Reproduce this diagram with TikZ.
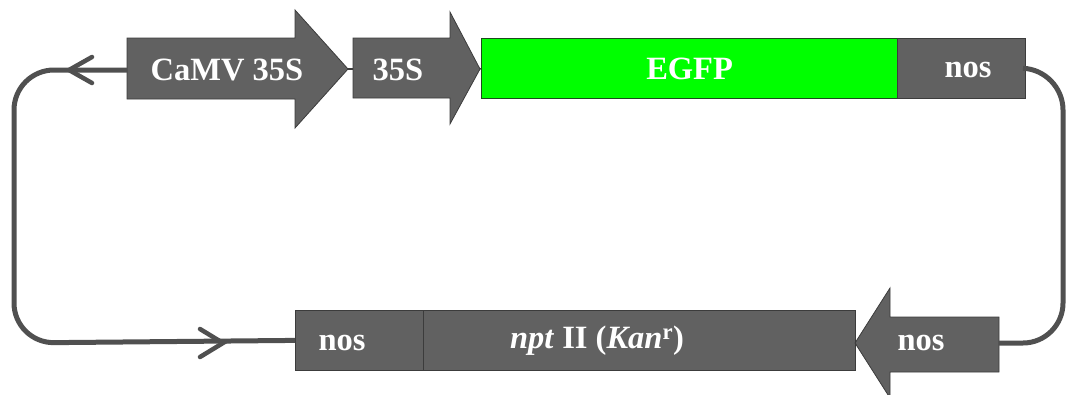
\documentclass[tikz,border=0pt]{standalone}
\usepackage{fontspec}
\setmainfont{Liberation Serif}
\begin{document}
\begin{tikzpicture}[x=1pt,y=-1pt,
  genefill/.style={fill=geneGray,draw=boxEdge,line width=0.8pt},
  boxnode/.style={genefill,rectangle,minimum height=60pt,inner sep=0pt,anchor=north west},
  lbl/.style={text=white,font=\fontsize{32.5}{38}\selectfont\bfseries,inner sep=0pt},
  loopline/.style={draw=lineGray,line width=5pt,rounded corners=40pt},
  chev/.style={draw=lineGray,line width=4.5pt,line cap=round,line join=miter},
  joint/.style={draw=boxEdge,line width=1.2pt}]
\definecolor{geneGray}{HTML}{616161}
\definecolor{boxEdge}{HTML}{3C3C3C}
\definecolor{lineGray}{HTML}{505050}
\definecolor{egfpGreen}{HTML}{00FF00}
\definecolor{egfpEdge}{HTML}{1E4A1E}
\useasboundingbox (0,0) rectangle (1067,394);

% CaMV 35S arrow
\path[genefill] (127,38) -- (295,38) -- (295,10) -- (348,69) -- (295,128) -- (295,99) -- (127,99) -- cycle;
\coordinate (camvL) at (127,70);
\coordinate (camvT) at (348,69);
\node[lbl] (camv) at (227,70) {CaMV 35S};

% 35S arrow
\path[genefill] (353,38) -- (450,38) -- (450,12) -- (480,69) -- (450,124) -- (450,98) -- (353,98) -- cycle;
\coordinate (s35L) at (353,69);
\coordinate (s35T) at (480,69);
\node[lbl] (s35) at (398,70) {35S};

% EGFP
\node[boxnode,fill=egfpGreen,draw=egfpEdge,line width=1.2pt,minimum width=416pt,minimum height=60pt] (egfp) at (481,38) {};
\node[lbl] at (egfp.center) {EGFP};

% nos top
\node[boxnode,minimum width=128pt] (nosT) at (897,38) {};
\node[lbl] at (968,70) {nos};

% short joints
\draw[joint] (camvT) -- (s35L);
\draw[joint] (s35T) -- (egfp.west);

% bottom nos box
\node[boxnode,minimum width=128pt] (nosB) at (295,310) {};
\node[lbl] at (342,343) {nos};

% npt II box
\node[boxnode,minimum width=432pt] (npt) at (423,310) {};
\node[lbl] at (597,341) {\textit{npt} II (\textit{Kan}\textsuperscript{r})};

% nos reverse arrow
\path[genefill] (999,317) -- (890,317) -- (890,288) -- (855,343) -- (890,398) -- (890,372) -- (999,372) -- cycle;
\coordinate (nosRR) at (999,343);
\node[lbl] (nosR) at (921,343) {nos};

% loop connectors
\draw[loopline] (camvL) -- (14,70) -- (14,343) -- (nosB.west);
\draw[loopline] (nosT.east) -- (1063,70) -- (1063,343) -- (nosRR);

% chevrons
\draw[chev] (92,57) -- (69,70) -- (92,83);
\draw[chev] (200,329) -- (223,343) -- (200,357);
\end{tikzpicture}
\end{document}
